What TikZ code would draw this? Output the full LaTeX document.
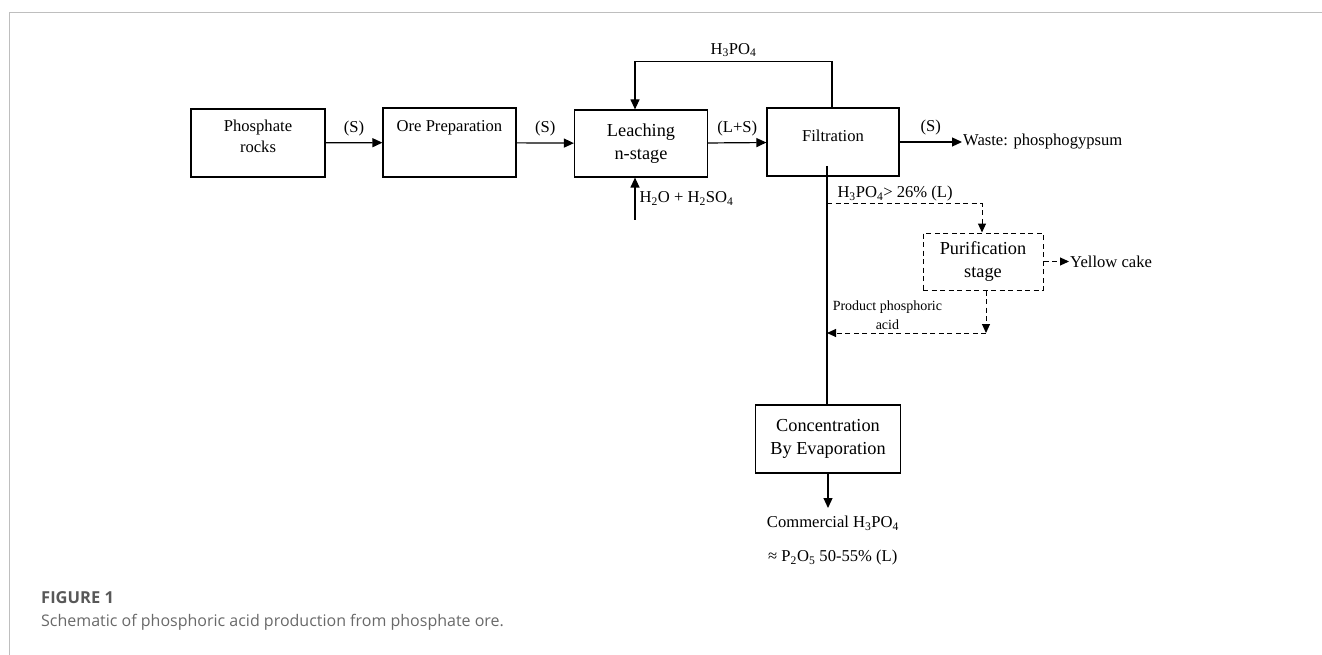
\documentclass[tikz,border=0pt]{standalone}
\usepackage{fontspec}
\setmainfont{Liberation Serif}
\newfontfamily\capfont{Open Sans}
\usepackage{xcolor}
\definecolor{capgray}{RGB}{88,88,88}
\definecolor{captext}{RGB}{105,105,105}
\definecolor{framegray}{RGB}{190,190,190}
\usepackage{tikz}
\usetikzlibrary{arrows.meta, positioning}
\newcommand{\fmain}{\fontsize{16.6pt}{21pt}\selectfont}
\newcommand{\fbig}{\fontsize{18.3pt}{23.5pt}\selectfont}
\newcommand{\fsmall}{\fontsize{14pt}{19pt}\selectfont}

\begin{document}
\begin{tikzpicture}[x=1pt, y=-1pt,
	box/.style={rectangle, draw=black, line width=1.2pt, align=center, inner sep=0pt, font=\fmain},
	dbox/.style={box, dash pattern=on 5pt off 3.5pt, line width=1pt},
	arr/.style={-{Triangle[length=10pt, width=9pt]}, line width=1.2pt},
	darr/.style={-{Triangle[length=9pt, width=8pt]}, line width=1pt, dash pattern=on 5pt off 3.5pt},
	lbl/.style={font=\fmain, inner sep=1pt},
	captxt/.style={anchor=base west, inner sep=0pt}
	]
\useasboundingbox (0,0) rectangle (1322,655);
\draw[framegray, line width=0.8pt] (9,655) -- (9,12) -- (1322,12);

\node[box, minimum width=134pt, minimum height=68pt, text depth=14pt] (rocks) at (258,143) {Phosphate\\rocks};
\node[box, minimum width=133pt, minimum height=69pt, text depth=33pt] (ore) at (449.5,142.5) {Ore Preparation};
\node[box, font=\fbig, minimum width=133pt, minimum height=67pt] (leach) at (641,143.5) {Leaching\\n-stage};
\node[box, minimum width=132pt, minimum height=68pt, text depth=12pt] (filt) at (833,142) {Filtration};
\node[lbl, anchor=west] (waste) at (962,142) {Waste: phosphogypsum};
\node[dbox, font=\fbig, minimum width=120pt, minimum height=57pt] (purif) at (983,261.5) {Purification\\stage};
\node[lbl, anchor=west] (yellow) at (1069,261.5) {Yellow cake};
\node[box, font=\fbig, minimum width=145pt, minimum height=68pt] (conc) at (828,439) {Concentration\\By Evaporation};
\node[lbl, anchor=north, inner ysep=8pt] (comm) at (833,508) {Commercial H\textsubscript{3}PO\textsubscript{4}};
\node[lbl, anchor=west] (grade) at (767,558) {≈ P\textsubscript{2}O\textsubscript{5} 50-55\% (L)};

\coordinate (feed) at (635,220);
\coordinate (tap) at (827,166);
\coordinate (split) at (827,204);
\coordinate (ret) at (986,333);

\draw[arr] (rocks) -- (ore) node[lbl, midway, above=5pt] {(S)};
\draw[arr] (ore) -- (leach) node[lbl, midway, above=5pt] {(S)};
\draw[arr] (leach) -- (filt) node[lbl, midway, above=5pt] {(L+S)};
\draw[arr] (filt) -- (waste.west) node[lbl, midway, above=5pt] {(S)};
\draw[arr] ([xshift=-1pt]filt.north) -- ++(0,-46) -| ([xshift=-6pt]leach.north)
	node[lbl, pos=0.25, above=3pt] {H\textsubscript{3}PO\textsubscript{4}};
\draw[arr] (feed) -- ([xshift=-6pt]leach.south)
	node[lbl, midway, right=3pt] {H\textsubscript{2}O + H\textsubscript{2}SO\textsubscript{4}};
\draw[line width=1.2pt] (tap) -- (tap |- conc.north);
\draw[darr] (split) -| ([xshift=-1pt]purif.north)
	node[lbl, pos=0, anchor=south west, xshift=9pt, yshift=1pt] {H\textsubscript{3}PO\textsubscript{4}> 26\% (L)};
\draw[darr] (purif) -- (yellow.west);
\draw[darr] ([xshift=3pt]purif.south) -- (ret);
\draw[darr] (ret) -- (ret -| tap)
	node[lbl, font=\fsmall, align=center, pos=0.62, above=2pt] {Product phosphoric\\acid};
\draw[arr] (conc.south) -- (conc.south |- comm.north);

\node[captxt, text=capgray, font=\capfont\bfseries\fontsize{16.5pt}{17pt}\selectfont] (fig) at (41,603) {FIGURE 1};
\node[captxt, text=captext, font=\capfont\fontsize{16pt}{17pt}\selectfont] (caption) at (41,626) {Schematic of phosphoric acid production from phosphate ore.};
\end{tikzpicture}
\end{document}
